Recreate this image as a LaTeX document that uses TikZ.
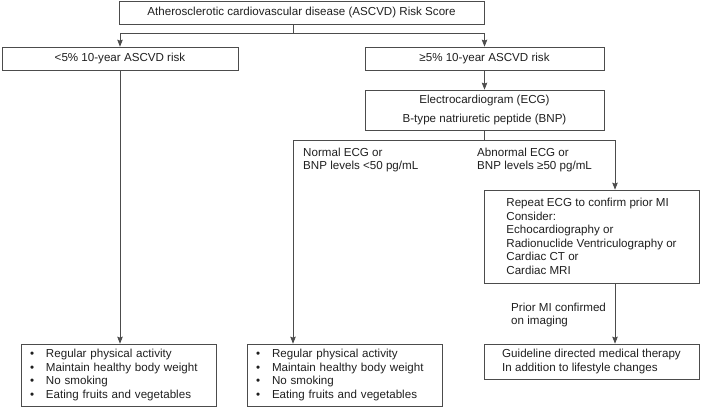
\documentclass[tikz,border=0pt]{standalone}
\usepackage{fontspec}
\setmainfont{Liberation Sans}
\usetikzlibrary{arrows.meta}
\begin{document}
\begin{tikzpicture}[x=1pt,y=-1pt,
  every node/.style={font=\fontsize{11.6}{13.5}\selectfont, text=black!88},
  boxs/.style={draw=black!70, line width=0.7pt, inner sep=0pt},
  listbox/.style={draw=black!70, line width=0.7pt, inner xsep=9pt, inner ysep=0pt,
    text width=177pt, minimum height=62pt, align=left},
  lbl/.style={inner sep=0pt, anchor=west, align=left},
  conn/.style={draw=black!70, line width=0.7pt},
  arr/.style={-{Stealth[length=7pt,width=5.5pt,inset=1pt]}, }
]
\useasboundingbox (0,0) rectangle (701,407);

\node[boxs, minimum width=365pt, minimum height=23pt] (top) at (301.5,12.5)
  {Atherosclerotic cardiovascular disease (ASCVD) Risk Score};
\node[boxs, minimum width=236pt, minimum height=23pt] (low) at (120,58.5)
  {<5\% 10-year ASCVD risk};
\node[boxs, minimum width=239pt, minimum height=23pt] (high) at (484.5,58.5)
  {≥5\% 10-year ASCVD risk};
\node[boxs, minimum width=239pt, minimum height=40pt, align=center] (ecg) at (484.5,110)
  {Electrocardiogram (ECG)\\[5pt]B-type natriuretic peptide (BNP)};
\node[boxs, minimum width=215pt, minimum height=93pt, align=left] (rep) at (591.5,236.5)
  {Repeat ECG to confirm prior MI\\Consider:\\Echocardiography or\\Radionuclide Ventriculography or\\Cardiac CT or\\Cardiac MRI};
\node[boxs, minimum width=215pt, minimum height=35pt, align=left] (guide) at (591.5,361.5)
  {Guideline directed medical therapy\\In addition to lifestyle changes};
\node[listbox] (bl) at (118.5,375)
  {\makebox[16pt][l]{\textbullet}Regular physical activity\\
   \makebox[16pt][l]{\textbullet}Maintain healthy body weight\\
   \makebox[16pt][l]{\textbullet}No smoking\\
   \makebox[16pt][l]{\textbullet}Eating fruits and vegetables};
\node[listbox] (bm) at (344.5,375)
  {\makebox[16pt][l]{\textbullet}Regular physical activity\\
   \makebox[16pt][l]{\textbullet}Maintain healthy body weight\\
   \makebox[16pt][l]{\textbullet}No smoking\\
   \makebox[16pt][l]{\textbullet}Eating fruits and vegetables};

\node[lbl] (nlab) at (303,160) {Normal ECG or\\BNP levels <50 pg/mL};
\node[lbl] (alab) at (477,160) {Abnormal ECG or\\BNP levels ≥50 pg/mL};
\node[lbl] (plab) at (511,315) {Prior MI confirmed\\on imaging};

\coordinate (j1) at (293,33);
\coordinate (jl) at (293,140);
\coordinate (jr) at (615,140);

\draw[conn] (top.south -| j1) -- (j1);
\draw[conn,arr] (j1) -| (low.north);
\draw[conn,arr] (j1) -| (high.north);
\draw[conn,arr] (low.south) -- (low.south |- bl.north);
\draw[conn,arr] (high.south) -- (ecg.north);
\draw[conn] (ecg.south) -- (ecg.south |- jl);
\draw[conn] (jl) -- (jr);
\draw[conn,arr] (jl) -- (jl |- bm.north);
\draw[conn,arr] (jr) -- (jr |- rep.north);
\draw[conn,arr] (rep.south -| jr) -- (guide.north -| jr);
\end{tikzpicture}
\end{document}
